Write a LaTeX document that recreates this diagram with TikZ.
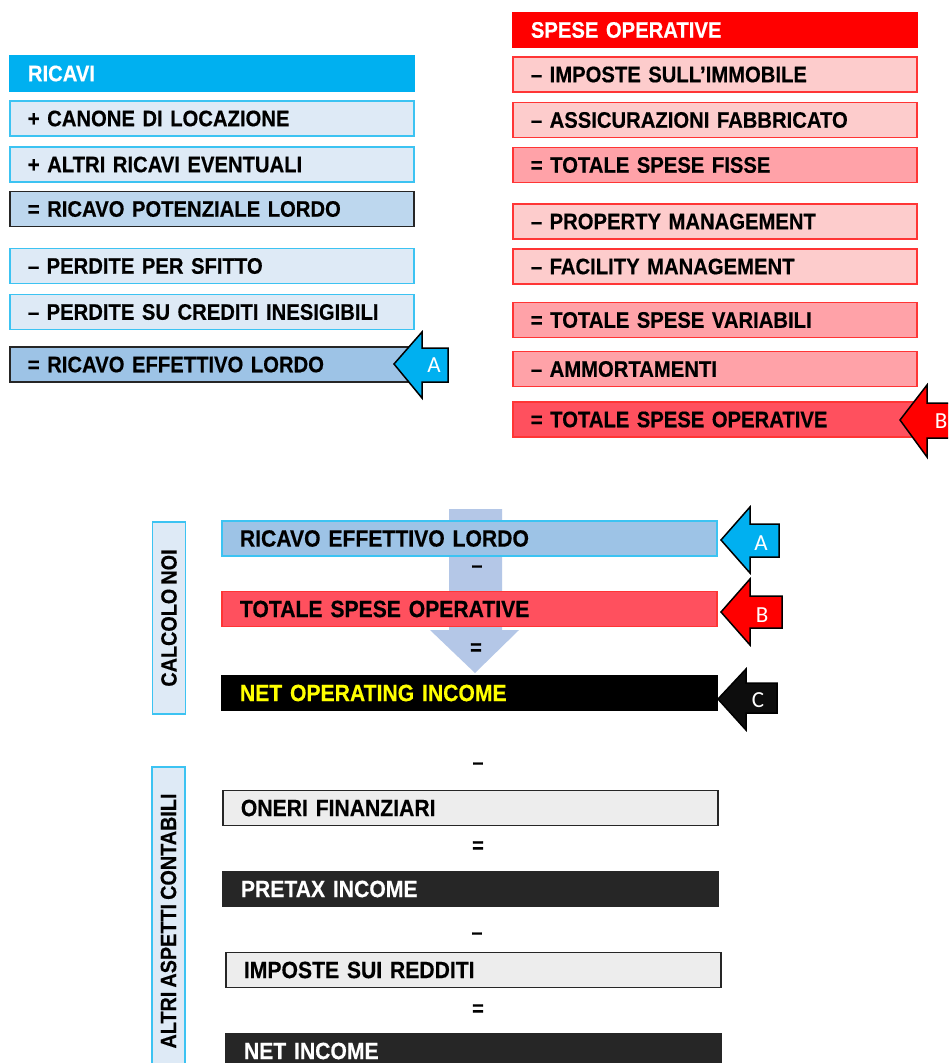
\documentclass[tikz,border=0pt]{standalone}
\usepackage{fontspec}
\setmainfont{Liberation Sans}
\newfontfamily\dinfont{Liberation Sans}[FakeStretch=0.9, WordSpace=0.75, BoldFeatures={FakeBold=0.4}]
\newfontfamily\lettere{Carlito}
\usetikzlibrary{positioning}

\definecolor{ciano}{HTML}{00B0F0}
\definecolor{azzurrino}{HTML}{DEEAF6}
\definecolor{bordoazz}{HTML}{3CC3F2}
\definecolor{azzmedio}{HTML}{BDD7EE}
\definecolor{azzscuro}{HTML}{9DC3E6}
\definecolor{rosso}{HTML}{FF0000}
\definecolor{rosachiaro}{HTML}{FDCCCC}
\definecolor{rosamedio}{HTML}{FFA2A8}
\definecolor{rosascuro}{HTML}{FF505E}
\definecolor{bordorosso}{HTML}{FF3535}
\definecolor{grigino}{HTML}{EDEDED}
\definecolor{quasinero}{HTML}{262626}
\definecolor{lavanda}{HTML}{B4C7E7}
\definecolor{giallo}{HTML}{FFFF00}

\tikzset{
  voce/.style={draw, line width=1.8pt, anchor=west, minimum height=35pt,
    inner xsep=18pt, inner ysep=0pt, align=left,
    font=\dinfont\fontsize{22.5}{24}\selectfont\bfseries},
  colonna/.style={voce, text width=368pt},
  centrale/.style={voce, text width=459pt, font=\dinfont\fontsize{23.5}{24}\selectfont\bfseries},
  azz/.style={fill=azzurrino, draw=bordoazz},
  rosa/.style={fill=rosachiaro, draw=bordorosso},
  rosa2/.style={fill=rosamedio, draw=bordorosso},
  grigio/.style={fill=grigino, draw=quasinero},
  scuro/.style={fill=quasinero, draw=quasinero, text=white},
  lato/.style={draw=bordoazz, fill=azzurrino, line width=1.8pt, rotate=90,
    minimum height=33pt, inner sep=0pt,
    font=\dinfont\fontsize{22}{24}\selectfont\bfseries},
  freccia/.style={draw=black, line width=1.5pt, line join=miter},
  lettera/.style={text=white, inner sep=0pt, font=\lettere\fontsize{23}{24}\selectfont},
  segno/.style={inner sep=0pt, font=\dinfont\fontsize{22}{24}\selectfont\bfseries}
}

\begin{document}
\begin{tikzpicture}[x=1pt, y=-1pt]
  \clip (0,0) rectangle (948,1063);
  \fill[white] (0,0) rectangle (948,1063);

  % Ricavi
  \node[colonna, fill=ciano, draw=ciano, text=white] (ricavi) at (9,73.5) {RICAVI};
  \node[colonna, azz] (canone) at (9,118.5) {+ CANONE DI LOCAZIONE};
  \node[colonna, azz] (altri) at (9,164.5) {+ ALTRI RICAVI EVENTUALI};
  \node[colonna, fill=azzmedio, draw=quasinero] (potenziale) at (9,209) {= RICAVO POTENZIALE LORDO};
  \node[colonna, azz] (sfitto) at (9,266) {– PERDITE PER SFITTO};
  \node[colonna, azz] (crediti) at (9,312) {– PERDITE SU CREDITI INESIGIBILI};
  \node[colonna, fill=azzscuro, draw=quasinero] (effettivo) at (9,364.5) {= RICAVO EFFETTIVO LORDO};
  \draw[freccia, fill=ciano] (394,364) -- ++(28,-32) -- ++(0,16) -- ++(26,0) -- ++(0,34)
    -- ++(-26,0) -- ++(0,16) -- cycle;
  \node[lettera] (lettA) at (434,365) {A};

  % Spese operative
  \node[colonna, fill=rosso, draw=rosso, text=white] (spese) at (512,30) {SPESE OPERATIVE};
  \node[colonna, rosa] (imposte) at (512,74.5) {– IMPOSTE SULL’IMMOBILE};
  \node[colonna, rosa] (assicurazioni) at (512,120) {– ASSICURAZIONI FABBRICATO};
  \node[colonna, rosa2] (fisse) at (512,165) {= TOTALE SPESE FISSE};
  \node[colonna, rosa] (property) at (512,221.5) {– PROPERTY MANAGEMENT};
  \node[colonna, rosa] (facility) at (512,266.5) {– FACILITY MANAGEMENT};
  \node[colonna, rosa2] (variabili) at (512,320) {= TOTALE SPESE VARIABILI};
  \node[colonna, rosa2] (ammortamenti) at (512,369) {– AMMORTAMENTI};
  \node[colonna, fill=rosascuro, draw=bordorosso] (operative) at (512,419.5) {= TOTALE SPESE OPERATIVE};
  \draw[freccia, fill=rosso] (900,420) -- ++(27,-35) -- ++(0,18) -- ++(40,0) -- ++(0,35)
    -- ++(-40,0) -- ++(0,19) -- cycle;
  \node[lettera] (lettB) at (941,421) {B};

  % Calcolo NOI
  \fill[lavanda] (449,509) -- (502,509) -- (502,630) -- (519,630) -- (475,673)
    -- (430,630) -- (449,630) -- cycle;
  \node[lato, minimum width=192pt] (calcolo) at (169,618) {CALCOLO NOI};
  \node[centrale, fill=azzscuro, draw=bordoazz] (reff) at (221,538.5) {RICAVO EFFETTIVO LORDO};
  \node[segno] (meno1) at (477,569) {–};
  \node[centrale, fill=rosascuro, draw=bordorosso] (tspese) at (221,609) {TOTALE SPESE OPERATIVE};
  \node[segno] (uguale1) at (476,649) {=};
  \node[centrale, fill=black, draw=black, text=giallo] (noi) at (221,693) {NET OPERATING INCOME};
  \draw[freccia, fill=ciano] (721,540) -- ++(29,-33) -- ++(0,17) -- ++(29,0) -- ++(0,33)
    -- ++(-29,0) -- ++(0,16) -- cycle;
  \node[lettera] (lettA2) at (761,543) {A};
  \draw[freccia, fill=rosso] (721,612) -- ++(29,-33) -- ++(0,17) -- ++(32,0) -- ++(0,32)
    -- ++(-32,0) -- ++(0,17) -- cycle;
  \node[lettera] (lettB2) at (762,615) {B};
  \draw[freccia, fill=black!95] (718,699) -- ++(28,-30) -- ++(0,14) -- ++(31,0) -- ++(0,30)
    -- ++(-31,0) -- ++(0,17) -- cycle;
  \node[lettera] (lettC) at (758,700) {C};

  % Altri aspetti contabili
  \node[lato, minimum width=308pt] (altriasp) at (168.5,921) {ALTRI ASPETTI CONTABILI};
  \node[segno] (meno2) at (478,766) {–};
  \node[centrale, grigio] (oneri) at (222,808) {ONERI FINANZIARI};
  \node[segno] (uguale2) at (478,847) {=};
  \node[centrale, scuro] (pretax) at (222,889) {PRETAX INCOME};
  \node[segno] (meno3) at (477,936) {–};
  \node[centrale, grigio] (redditi) at (225,970) {IMPOSTE SUI REDDITI};
  \node[segno] (uguale3) at (478,1010) {=};
  \node[centrale, scuro] (netincome) at (225,1051) {NET INCOME};
\end{tikzpicture}
\end{document}
